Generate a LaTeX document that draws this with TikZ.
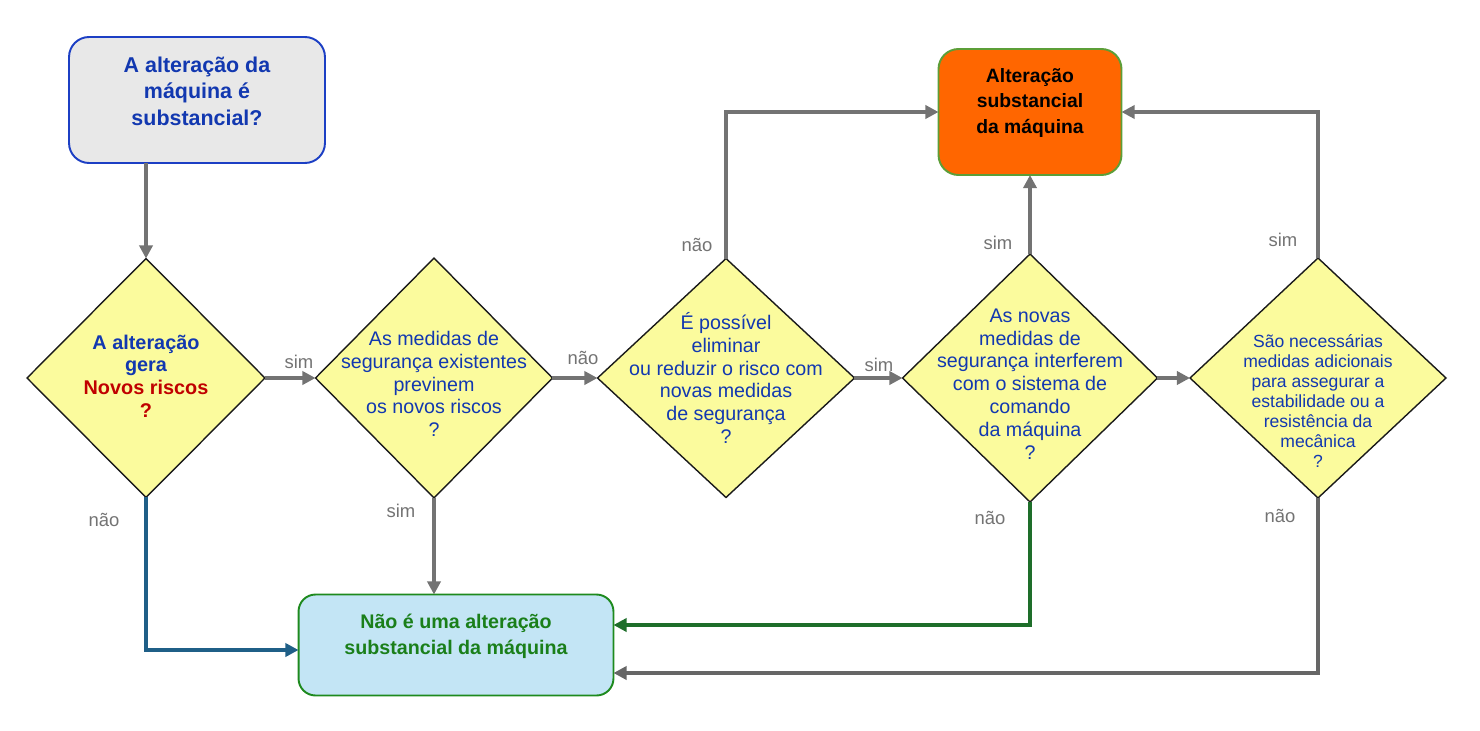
\documentclass[tikz,border=0pt]{standalone}
\usepackage{fontspec}
\setmainfont{Liberation Sans}
\usepackage{xcolor}
\usetikzlibrary{shapes.geometric,arrows.meta}

\definecolor{linegray}{HTML}{737373}
\definecolor{darkgray}{HTML}{666666}
\definecolor{teal}{HTML}{1F5F87}
\definecolor{darkgreen}{HTML}{1E6E2A}
\definecolor{qblue}{HTML}{1238B0}
\definecolor{qred}{HTML}{C00000}
\definecolor{startfill}{HTML}{E8E8E8}
\definecolor{startline}{HTML}{1C3FC4}
\definecolor{diamondfill}{HTML}{FBFB9D}
\definecolor{diamondline}{HTML}{1A1A1A}
\definecolor{altfill}{HTML}{FF6600}
\definecolor{altline}{HTML}{5C9E38}
\definecolor{naofill}{HTML}{C3E5F5}
\definecolor{naoline}{HTML}{1E8A1E}
\definecolor{naotext}{HTML}{1A7F1A}

\begin{document}
\begin{tikzpicture}[x=0.02cm, y=-0.02cm,
    box/.style={rectangle, rounded corners=0.4cm, line width=1.1pt, inner sep=0, outer sep=0},
    decision/.style={diamond, draw=diamondline, fill=diamondfill, line width=0.8pt, inner sep=0, outer sep=0},
    qtext/.style={align=center, inner sep=0, text=qblue, font=\fontsize{11.2}{13}\selectfont},
    answer/.style={inner sep=0, text=linegray, font=\fontsize{10.5}{12}\selectfont},
    flow/.style={draw=linegray, line width=2.2pt, -{Triangle[length=7.5pt,width=7.5pt]}}]

    \useasboundingbox (0,0) rectangle (1480,730);

    % boxes
    \node[box, draw=startline, fill=startfill, minimum width=5.12cm, minimum height=2.52cm] (start) at (197,100) {};
    \node[box, draw=altline, fill=altfill, minimum width=3.66cm, minimum height=2.52cm] (alt) at (1030,112) {};
    \node[box, draw=naoline, fill=naofill, rounded corners=0.34cm, minimum width=6.3cm, minimum height=2.02cm] (nao) at (456,645) {};

    \node[align=center, inner sep=0, text=qblue, font=\bfseries\fontsize{12.2}{15}\selectfont] (start-t) at (197,91)
        {A alteração da\\máquina é\\substancial?};
    \node[align=center, inner sep=0, font=\bfseries\fontsize{11}{14.7}\selectfont] (alt-t) at (1030,103)
        {Alteração\\substancial\\da máquina};
    \node[align=center, inner sep=0, text=naotext, font=\bfseries\fontsize{11.2}{15}\selectfont] (nao-t) at (456,636)
        {Não é uma alteração\\substancial da máquina};

    % decisions
    \node[decision, minimum width=4.76cm, minimum height=4.78cm] (d1) at (146,378) {};
    \node[decision, minimum width=4.74cm, minimum height=4.80cm] (d2) at (434,378) {};
    \node[decision, minimum width=5.14cm, minimum height=4.78cm] (d3) at (726,378) {};
    \node[decision, minimum width=5.10cm, minimum height=4.96cm] (d4) at (1030,378) {};
    \node[decision, minimum width=5.12cm, minimum height=4.80cm] (d5) at (1318,378) {};

    \node[qtext, font=\bfseries\fontsize{11.3}{12.9}\selectfont] (d1-t) at (146,376)
        {A alteração\\gera\\\textcolor{qred}{Novos riscos}\\\textcolor{qred}{?}};
    \node[qtext] (d2-t) at (434,384)
        {As medidas de\\segurança existentes\\previnem\\os novos riscos\\?};
    \node[qtext] (d3-t) at (726,378)
        {É possível\\eliminar\\ou reduzir o risco com\\novas medidas\\de segurança\\?};
    \node[qtext] (d4-t) at (1030,384)
        {As novas\\medidas de\\segurança interferem\\com o sistema de\\comando\\da máquina\\?};
    \node[qtext, font=\fontsize{10}{11.3}\selectfont] (d5-t) at (1318,401)
        {São necessárias\\medidas adicionais\\para assegurar a\\estabilidade ou a\\resistência da\\mecânica\\?};

    % connectors
    \draw[flow] (d1.north |- start.south) -- (d1.north);
    \draw[flow] (d1.east) -- (d2.west);
    \draw[flow] (d2.east) -- (d3.west);
    \draw[flow] (d3.east) -- (d4.west);
    \draw[flow] (d4.east) -- (d5.west);
    \draw[flow] (d3.north) |- (alt.west);
    \draw[flow] (d4.north) -- (alt.south);
    \draw[flow] (d5.north) |- (alt.east);
    \draw[flow, draw=teal] (d1.south) |- ([yshift=-0.1cm]nao.west);
    \draw[flow] (d2.south) -- (d2.south |- nao.north);
    \draw[flow, draw=darkgreen] (d4.south) |- ([yshift=0.4cm]nao.east);
    \draw[flow, draw=darkgray] (d5.south) |- ([yshift=-0.56cm]nao.east);

    % answers
    \node[answer] (sim-a) at (299,362) {sim};
    \node[answer] (nao-b) at (583,358) {não};
    \node[answer] (sim-c) at (879,365) {sim};
    \node[answer] (nao-d) at (697,245) {não};
    \node[answer] (sim-e) at (998,243) {sim};
    \node[answer] (sim-f) at (1283,240) {sim};
    \node[answer] (nao-g) at (104,520) {não};
    \node[answer] (sim-h) at (401,511) {sim};
    \node[answer] (nao-i) at (990,518) {não};
    \node[answer] (nao-j) at (1280,516) {não};
\end{tikzpicture}
\end{document}
